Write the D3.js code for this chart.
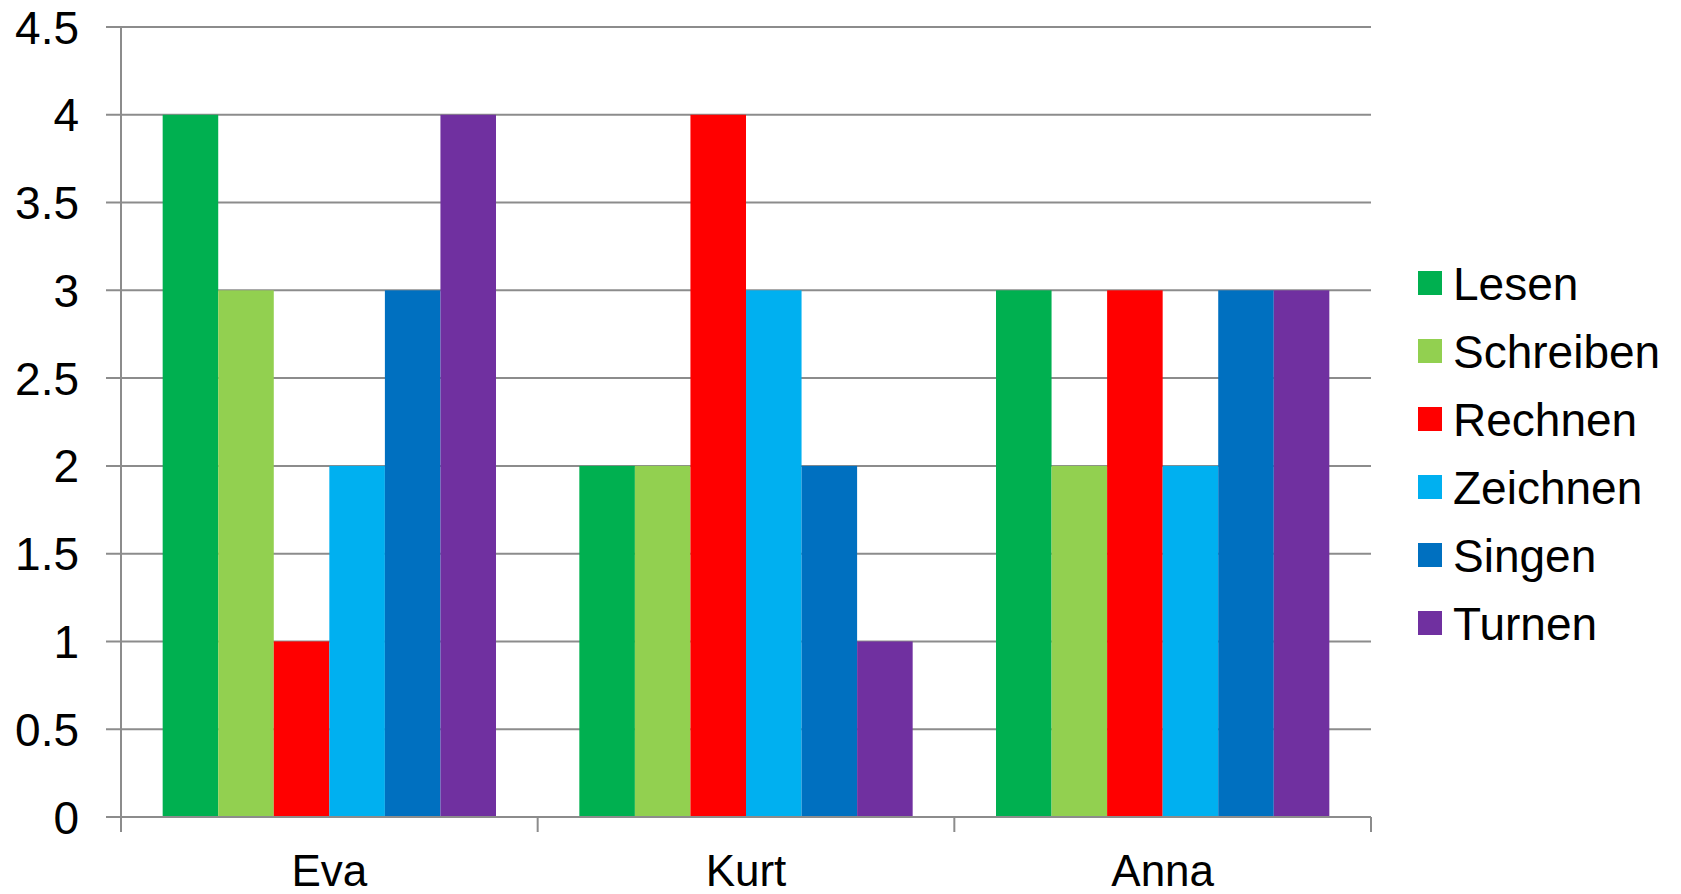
<!DOCTYPE html>
<html>
<head>
<meta charset="utf-8">
<script src="https://cdn.jsdelivr.net/npm/d3@7"></script>
<style>
  body { margin: 0; background: #fff; }
  text { font-family: "Liberation Sans", Arial, sans-serif; fill: #000; }
</style>
</head>
<body>
<div id="grafico"></div>
<script>
var personen = ['Eva', 'Kurt', 'Anna'];
var faecher = ['Lesen', 'Schreiben', 'Rechnen', 'Zeichnen', 'Singen', 'Turnen'];
var farben = ['#00B050', '#92D050', '#FF0000', '#00B0F0', '#0070C0', '#7030A0'];
var lesen = [4, 2, 3];
var schreiben = [3, 2, 2];
var rechnen = [1, 4, 3];
var zeichnen = [2, 3, 2];
var singen = [3, 2, 3];
var turnen = [4, 1, 3];
var yTicks = [0, 0.5, 1, 1.5, 2, 2.5, 3, 3.5, 4, 4.5];

var werte = [lesen, schreiben, rechnen, zeichnen, singen, turnen];

var svgWidth = 1681;
var svgHeight = 894;
var margin = { top: 27, right: 310, bottom: 77, left: 121 };
var chartWidth = svgWidth - margin.left - margin.right;
var chartHeight = svgHeight - margin.top - margin.bottom;

var svg = d3.select("#grafico")
  .append("svg")
  .attr("width", svgWidth)
  .attr("height", svgHeight);

var chart = svg.append("g")
  .attr("transform", "translate(" + margin.left + "," + margin.top + ")");

var x0 = d3.scaleBand()
  .domain(personen)
  .range([0, chartWidth])
  .padding(0);

var x1 = d3.scaleBand()
  .domain(faecher)
  .range([0, x0.bandwidth()])
  .paddingInner(0)
  .paddingOuter(0.75);

var yScale = d3.scaleLinear()
  .domain([0, 4.5])
  .range([chartHeight, 0]);

// gridlines
chart.append("g")
  .selectAll("line")
  .data(yTicks)
  .enter()
  .append("line")
  .attr("x1", -15)
  .attr("x2", chartWidth)
  .attr("y1", d => yScale(d))
  .attr("y2", d => yScale(d))
  .attr("stroke", "#8c8c8c")
  .attr("stroke-width", 2);

// bars
var rows = [];
personen.forEach(function (p, i) {
  faecher.forEach(function (f, j) {
    rows.push({ person: p, fach: f, wert: werte[j][i], farbe: farben[j] });
  });
});

chart.selectAll(".bar")
  .data(rows)
  .enter()
  .append("rect")
  .attr("class", "bar")
  .attr("x", d => x0(d.person) + x1(d.fach))
  .attr("y", d => yScale(d.wert))
  .attr("width", x1.bandwidth())
  .attr("height", d => chartHeight - yScale(d.wert))
  .attr("fill", d => d.farbe);

// y axis line + labels
chart.append("line")
  .attr("x1", 0).attr("x2", 0)
  .attr("y1", 0).attr("y2", chartHeight + 15)
  .attr("stroke", "#8c8c8c")
  .attr("stroke-width", 2);

chart.append("g")
  .selectAll("text")
  .data(yTicks)
  .enter()
  .append("text")
  .attr("x", -42)
  .attr("y", d => yScale(d))
  .attr("dy", "0.36em")
  .attr("text-anchor", "end")
  .style("font-size", "46px")
  .text(d => d);

// x axis
chart.append("line")
  .attr("x1", -15).attr("x2", chartWidth)
  .attr("y1", chartHeight).attr("y2", chartHeight)
  .attr("stroke", "#8c8c8c")
  .attr("stroke-width", 2);

var grenzen = personen.map(p => x0(p)).concat([chartWidth]);
chart.append("g")
  .selectAll("line")
  .data(grenzen)
  .enter()
  .append("line")
  .attr("x1", d => d).attr("x2", d => d)
  .attr("y1", chartHeight).attr("y2", chartHeight + 15)
  .attr("stroke", "#8c8c8c")
  .attr("stroke-width", 2);

chart.append("g")
  .selectAll("text")
  .data(personen)
  .enter()
  .append("text")
  .attr("x", d => x0(d) + x0.bandwidth() / 2)
  .attr("y", chartHeight + 69)
  .attr("text-anchor", "middle")
  .style("font-size", "44px")
  .text(d => d);

// legend
var legend = svg.append("g")
  .attr("transform", "translate(1418,283)");

var item = legend.selectAll("g")
  .data(faecher)
  .enter()
  .append("g")
  .attr("transform", (d, i) => "translate(0," + (i * 68) + ")");

item.append("rect")
  .attr("x", 0)
  .attr("y", -12)
  .attr("width", 24)
  .attr("height", 24)
  .attr("fill", (d, i) => farben[i]);

item.append("text")
  .attr("x", 35)
  .attr("y", 0)
  .attr("dy", "0.36em")
  .style("font-size", "46px")
  .text(d => d);
</script>
</body>
</html>
